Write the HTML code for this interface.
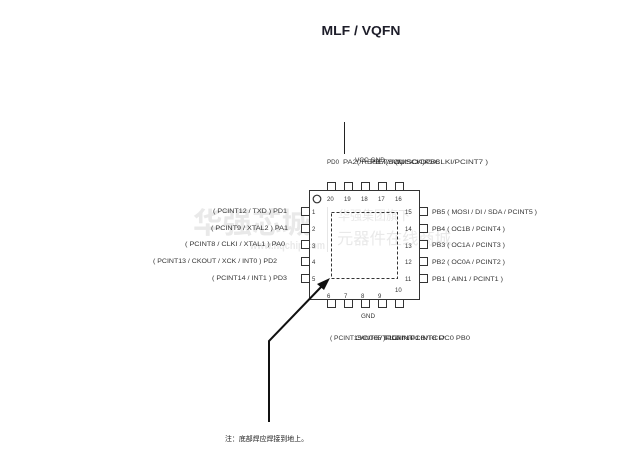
<!DOCTYPE html>
<html><head><meta charset="utf-8"><style>
html,body{margin:0;padding:0;background:#fff;}
svg{display:block;}
text{font-family:"Liberation Sans","Noto Sans CJK SC",sans-serif;}
</style></head><body>
<svg width="639" height="456" viewBox="0 0 639 456" xmlns="http://www.w3.org/2000/svg">
<rect width="639" height="456" fill="#fff"/>
<!-- watermark -->
<g fill="#e9e9e9">
<text x="193" y="233" font-size="29" font-weight="bold" font-family="'Noto Sans CJK SC',sans-serif" textLength="118" lengthAdjust="spacingAndGlyphs">华强芯城</text>
<text x="250" y="249" font-size="11" font-weight="bold" textLength="75" lengthAdjust="spacingAndGlyphs">www.hqchip.com</text>
<text x="338" y="220" font-size="13" font-family="'Noto Sans CJK SC',sans-serif" textLength="72" lengthAdjust="spacingAndGlyphs">华强集团旗下</text>
<text x="337" y="244" font-size="16" font-family="'Noto Sans CJK SC',sans-serif" textLength="114" lengthAdjust="spacingAndGlyphs">元器件在线商城</text>
</g>
<line x1="327.5" y1="207" x2="327.5" y2="252" stroke="#e6e6e6" stroke-width="1"/>

<!-- title -->
<text x="361" y="35" font-size="13" font-weight="bold" fill="#1e1e2a" text-anchor="middle" textLength="79" lengthAdjust="spacingAndGlyphs">MLF / VQFN</text>

<!-- top vertical line -->
<line x1="344.5" y1="122" x2="344.5" y2="154" stroke="#222" stroke-width="1"/>

<!-- chip body -->
<rect x="309.5" y="190.5" width="110" height="109" fill="none" stroke="#333" stroke-width="1"/>
<circle cx="317" cy="199" r="3.8" fill="none" stroke="#333" stroke-width="1.2"/>
<rect x="331.5" y="212.5" width="66" height="66" fill="none" stroke="#333" stroke-width="1" stroke-dasharray="3,2"/>

<!-- pins -->
<g fill="#fff" stroke="#333" stroke-width="1">
<rect x="327.5" y="182.5" width="8" height="8"/>
<rect x="344.5" y="182.5" width="8" height="8"/>
<rect x="361.5" y="182.5" width="8" height="8"/>
<rect x="378.5" y="182.5" width="8" height="8"/>
<rect x="395.5" y="182.5" width="8" height="8"/>
<rect x="327.5" y="299.5" width="8" height="8"/>
<rect x="344.5" y="299.5" width="8" height="8"/>
<rect x="361.5" y="299.5" width="8" height="8"/>
<rect x="378.5" y="299.5" width="8" height="8"/>
<rect x="395.5" y="299.5" width="8" height="8"/>
<rect x="301.5" y="207.5" width="8" height="8"/>
<rect x="301.5" y="224.5" width="8" height="8"/>
<rect x="301.5" y="240.5" width="8" height="8"/>
<rect x="301.5" y="257.5" width="8" height="8"/>
<rect x="301.5" y="274.5" width="8" height="8"/>
<rect x="419.5" y="207.5" width="8" height="8"/>
<rect x="419.5" y="224.5" width="8" height="8"/>
<rect x="419.5" y="240.5" width="8" height="8"/>
<rect x="419.5" y="257.5" width="8" height="8"/>
<rect x="419.5" y="274.5" width="8" height="8"/>
</g>

<!-- pin numbers -->
<g font-size="6" fill="#333">
<text x="327" y="201">20</text>
<text x="344" y="201">19</text>
<text x="361" y="201">18</text>
<text x="378" y="201">17</text>
<text x="395" y="201">16</text>
<text x="312" y="214">1</text>
<text x="312" y="231">2</text>
<text x="312" y="248">3</text>
<text x="312" y="264">4</text>
<text x="312" y="281">5</text>
<text x="405" y="214">15</text>
<text x="405" y="231">14</text>
<text x="405" y="248">13</text>
<text x="405" y="264">12</text>
<text x="405" y="281">11</text>
<text x="327" y="298">6</text>
<text x="344" y="298">7</text>
<text x="361" y="298">8</text>
<text x="378" y="298">9</text>
<text x="395" y="292">10</text>
</g>

<!-- left labels -->
<g font-size="6" fill="#333">
<text x="213" y="213" textLength="74" lengthAdjust="spacingAndGlyphs">( PCINT12 / TXD )   PD1</text>
<text x="211" y="230" textLength="77" lengthAdjust="spacingAndGlyphs">( PCINT9 / XTAL2 )   PA1</text>
<text x="185" y="246" textLength="100" lengthAdjust="spacingAndGlyphs">( PCINT8 / CLKI / XTAL1 )  PA0</text>
<text x="153" y="263" textLength="124" lengthAdjust="spacingAndGlyphs">( PCINT13 / CKOUT / XCK / INT0 )   PD2</text>
<text x="212" y="280" textLength="75" lengthAdjust="spacingAndGlyphs">( PCINT14 / INT1 )   PD3</text>
</g>

<!-- right labels -->
<g font-size="6" fill="#333">
<text x="432" y="214" textLength="105" lengthAdjust="spacingAndGlyphs">PB5  ( MOSI / DI / SDA / PCINT5 )</text>
<text x="432" y="231" textLength="73" lengthAdjust="spacingAndGlyphs">PB4  ( OC1B / PCINT4 )</text>
<text x="432" y="247" textLength="73" lengthAdjust="spacingAndGlyphs">PB3  ( OC1A / PCINT3 )</text>
<text x="432" y="264" textLength="73" lengthAdjust="spacingAndGlyphs">PB2  ( OC0A / PCINT2 )</text>
<text x="432" y="281" textLength="71" lengthAdjust="spacingAndGlyphs">PB1  ( AIN1 / PCINT1 )</text>
</g>

<!-- top garbled labels -->
<g font-size="6" fill="#333">
<text x="327" y="164" textLength="12" lengthAdjust="spacingAndGlyphs">PD0</text>
<text x="343" y="164" textLength="60" lengthAdjust="spacingAndGlyphs">PA2(/RESET/dW)</text>
<text x="355" y="162" textLength="30" lengthAdjust="spacingAndGlyphs">VCC GND</text>
<text x="370" y="164" textLength="70" lengthAdjust="spacingAndGlyphs">PB7(SCL/SCK)PB6</text>
<text x="395" y="164" textLength="93" lengthAdjust="spacingAndGlyphs">(MISO/DO/CLKI/PCINT7 )</text>
</g>

<!-- bottom labels -->
<g font-size="6" fill="#333">
<text x="361" y="318" textLength="14" lengthAdjust="spacingAndGlyphs">GND</text>
<text x="330" y="340" textLength="70" lengthAdjust="spacingAndGlyphs">( PCINT15/INT05 ) PD5</text>
<text x="355" y="340" textLength="60" lengthAdjust="spacingAndGlyphs">OC0B/T1 AIN0</text>
<text x="385" y="340" textLength="60" lengthAdjust="spacingAndGlyphs">PCINT16/ICP</text>
<text x="410" y="340" textLength="60" lengthAdjust="spacingAndGlyphs">PCINT8 OC0   PB0</text>
</g>

<!-- arrow -->
<polyline points="269,422 269,341 322,286" fill="none" stroke="#111" stroke-width="2"/>
<polygon points="330,278 317,284 324,290" fill="#111"/>

<!-- note -->
<text x="225" y="441" font-size="7" fill="#222" font-family="'Noto Sans CJK SC',sans-serif" textLength="83" lengthAdjust="spacingAndGlyphs">注：底部焊应焊接到地上。</text>
</svg>
</body></html>
